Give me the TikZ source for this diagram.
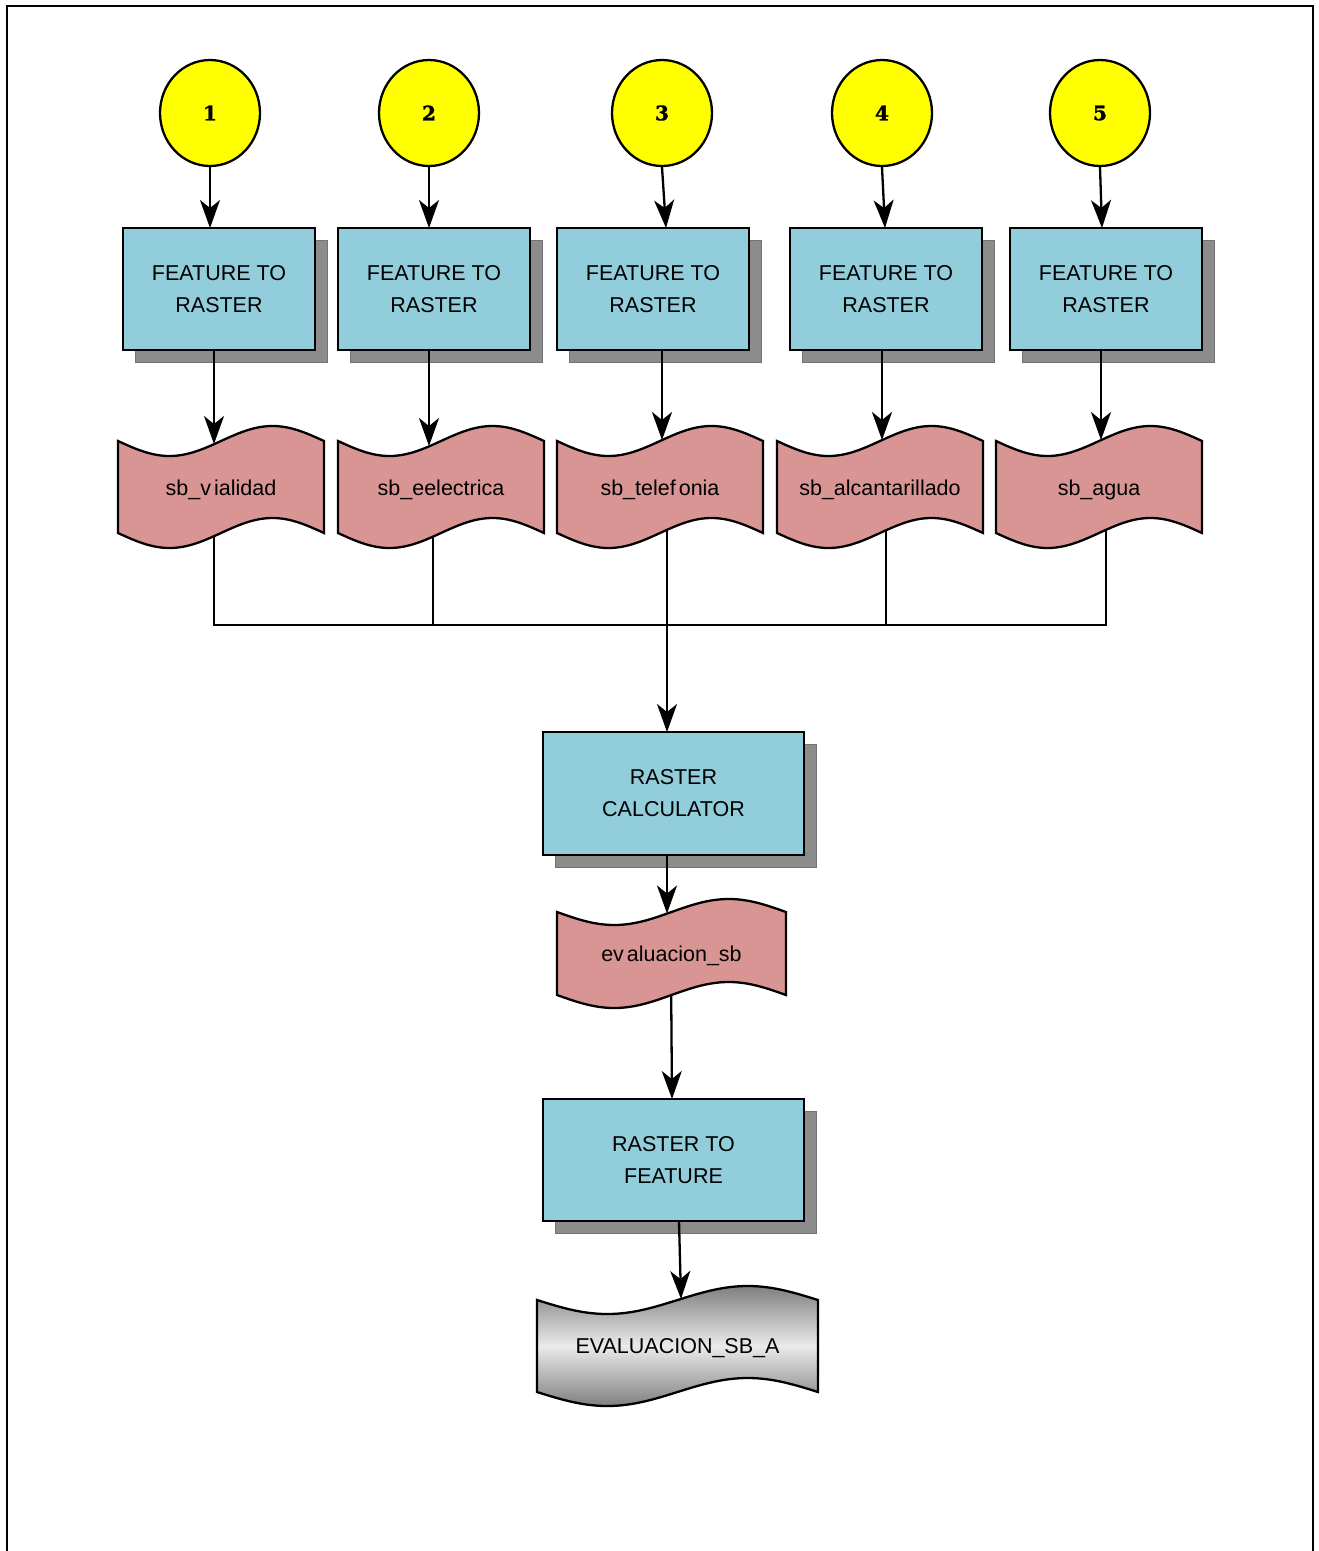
\documentclass[tikz,border=0pt]{standalone}
\usepackage{fontspec}
\setmainfont{Liberation Sans}
\newfontfamily\numfont[BoldFeatures={FakeBold=1.5}]{DejaVu Serif}
\usetikzlibrary{arrows.meta,shadows,shapes.geometric}
\definecolor{boxblue}{HTML}{92CDDC}
\definecolor{wavepink}{HTML}{D99594}
\definecolor{shadowgray}{HTML}{8C8C8C}
\definecolor{startyellow}{HTML}{FFFF00}
\pgfdeclarelayer{bg}
\pgfsetlayers{bg,main}
% #1 name, #2 x0, #3 ytop, #4 width, #5 height, #6 amplitude, #7 path style, #8 text
\newcommand\wavedoc[8]{%
  \path[#7] plot[domain=0:1,samples=61,smooth] ({#2+#4*\x},{#3+#6*sin(360*\x)})
     -- plot[domain=1:0,samples=61,smooth] ({#2+#4*\x},{#3+#5+#6*sin(360*\x)}) -- cycle;
  \node[wavetext] (#1) at ({#2+#4/2},{#3+#5/2+2.5}) {#8};
}
\begin{document}
\begin{tikzpicture}[x=1pt,y=-1pt,
  every node/.style={font=\fontsize{21.5}{32}\selectfont},
  proc/.style={draw=black, line width=2.6pt, fill=boxblue, minimum width=192pt,
    minimum height=122pt, align=center, inner sep=0pt,
    drop shadow={shadow xshift=12pt, shadow yshift=-12pt, fill=shadowgray,
      draw=black!55, line width=1pt, opacity=1}},
  bigproc/.style={proc, minimum width=261pt, minimum height=123pt},
  startnode/.style={ellipse, draw=black, line width=2.3pt, fill=startyellow,
    minimum width=100pt, minimum height=106pt, inner sep=0pt,
    font=\numfont\bfseries\fontsize{20}{24}\selectfont},
  wavefill/.style={draw=black, line width=2.3pt, fill=wavepink},
  wavetext/.style={inner sep=0pt},
  conn/.style={line width=2.3pt},
  arr/.style={conn, -{Stealth[length=28pt,width=20pt,inset=8pt]}}
]
\useasboundingbox (0,0) rectangle (1318,1551);
% page frame
\draw[line width=2.5pt] (7,1552) -- (7,6) -- (1313,6) -- (1313,1552);

% start circles
\node[startnode] (c1) at (210,113) {1};
\node[startnode] (c2) at (429,113) {2};
\node[startnode] (c3) at (662,113) {3};
\node[startnode] (c4) at (882,113) {4};
\node[startnode] (c5) at (1100,113) {5};

% feature to raster boxes
\node[proc] (b1) at (219,289) {FEATURE TO\\RASTER};
\node[proc] (b2) at (434,289) {FEATURE TO\\RASTER};
\node[proc] (b3) at (653,289) {FEATURE TO\\RASTER};
\node[proc] (b4) at (886,289) {FEATURE TO\\RASTER};
\node[proc] (b5) at (1106,289) {FEATURE TO\\RASTER};

% waves
\wavedoc{w1}{118}{441}{206}{92}{15}{wavefill}{sb\_v\kern3pt ialidad}
\wavedoc{w2}{338}{441}{206}{92}{15}{wavefill}{sb\_eelectrica}
\wavedoc{w3}{557}{441}{206}{92}{15}{wavefill}{sb\_telef\kern3pt onia}
\wavedoc{w4}{777}{441}{206}{92}{15}{wavefill}{sb\_alcantarillado}
\wavedoc{w5}{996}{441}{206}{92}{15}{wavefill}{sb\_agua}

\node[bigproc] (rc) at (673.5,793.5) {RASTER\\CALCULATOR};
\wavedoc{ev}{557}{912}{229}{83}{13}{wavefill}{ev\kern3pt aluacion\_sb}
\node[bigproc, minimum height=122pt] (rf) at (673.5,1160) {RASTER TO\\FEATURE};
\wavedoc{fin}{537}{1300}{281}{92}{14}{draw=black, line width=2.3pt, top color=black!50, bottom color=black!50, middle color=black!8}{EVALUACION\_SB\_A}

% connector points
\coordinate (b1in) at (210,228);
\coordinate (b2in) at (429,228);
\coordinate (b3in) at (666,228);
\coordinate (b4in) at (885,228);
\coordinate (b5in) at (1102,228);
\coordinate (b1out) at (214,350);
\coordinate (b2out) at (429,350);
\coordinate (b3out) at (662,350);
\coordinate (b4out) at (882,350);
\coordinate (b5out) at (1101,350);
\coordinate (w1in) at (214,444);
\coordinate (w2in) at (429,446);
\coordinate (w3in) at (662,440);
\coordinate (w4in) at (882,440);
\coordinate (w5in) at (1101,440);
\coordinate (w1out) at (214,500);
\coordinate (w2out) at (433,500);
\coordinate (w3out) at (667,500);
\coordinate (w4out) at (886,500);
\coordinate (w5out) at (1106,500);
\coordinate (j1) at (214,625);
\coordinate (j5) at (1106,625);
\coordinate (rcin) at (667,732);
\coordinate (rcout) at (667,855);
\coordinate (evin) at (667,913.5);
\coordinate (evout) at (671,970);
\coordinate (rfin) at (672,1099);
\coordinate (rfout) at (679,1221);
\coordinate (finin) at (681,1299);

% arrows into boxes and waves
\draw[arr] (c1) -- (b1in);
\draw[arr] (c2) -- (b2in);
\draw[arr] (c3.south) -- (b3in);
\draw[arr] (c4.south) -- (b4in);
\draw[arr] (c5.south) -- (b5in);
\draw[arr] (b1out) -- (w1in);
\draw[arr] (b2out) -- (w2in);
\draw[arr] (b3out) -- (w3in);
\draw[arr] (b4out) -- (w4in);
\draw[arr] (b5out) -- (w5in);
\draw[arr] (rcout) -- (evin);
\draw[arr] (rfout) -- (finin);

\begin{pgfonlayer}{bg}
  \draw[conn] (w1out) -- (j1) -- (j5) -- (w5out);
  \draw[conn] (w2out) -- (w2out |- j1);
  \draw[conn] (w4out) -- (w4out |- j1);
  \draw[arr] (w3out) -- (rcin);
  \draw[arr] (evout) -- (rfin);
\end{pgfonlayer}
\end{tikzpicture}
\end{document}
